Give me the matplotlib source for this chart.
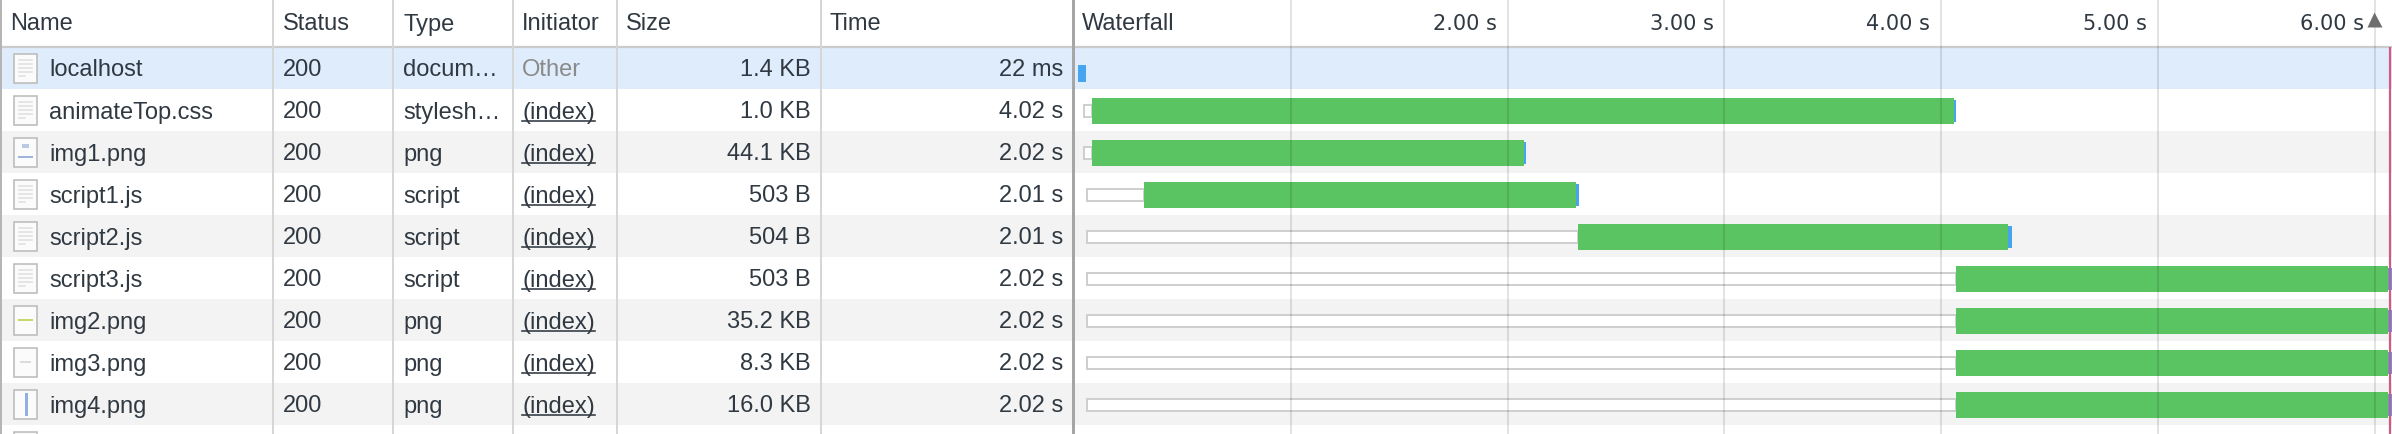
import numpy as np
import matplotlib
matplotlib.use("Agg")
import matplotlib.pyplot as plt
from matplotlib.patches import Rectangle
from matplotlib.lines import Line2D
import matplotlib.transforms as mtrans

# --- datos de la tabla ---
names = ["localhost", "animateTop.css", "img1.png", "script1.js", "script2.js",
         "script3.js", "img2.png", "img3.png", "img4.png"]
statuses = ["200"] * 9
types = ["docum\u2026", "stylesh\u2026", "png", "script", "script", "script",
         "png", "png", "png"]
initiators = ["Other"] + ["(index)"] * 8
sizes = ["1.4 KB", "1.0 KB", "44.1 KB", "503 B", "504 B", "503 B",
         "35.2 KB", "8.3 KB", "16.0 KB"]
times = ["22 ms", "4.02 s", "2.02 s", "2.01 s", "2.01 s", "2.02 s",
         "2.02 s", "2.02 s", "2.02 s"]
icon_kind = ["doc", "doc", "img1", "doc", "doc", "doc", "img2", "img3", "img4"]

# --- waterfall (segundos) ---
queue_start = [0.018, 0.046, 0.046, 0.060, 0.060, 0.060, 0.060, 0.060, 0.060]
wait_start = [0.018, 0.083, 0.083, 0.323, 2.325, 4.069, 4.069, 4.069, 4.069]
recv_start = [0.018, 4.059, 2.075, 2.315, 4.307, 6.061, 6.061, 6.061, 6.061]
req_end = [0.055, 4.069, 2.085, 2.330, 4.325, 6.080, 6.080, 6.080, 6.080]
grid_secs = [1, 2, 3, 4, 5, 6]
tick_secs = [2, 3, 4, 5, 6]
tick_labels = ["2.00 s", "3.00 s", "4.00 s", "5.00 s", "6.00 s"]
load_event = 6.07

W, H = 2392, 434
HEAD = 47      # alto de la cabecera (px)
ROW = 42       # alto de fila (px)
PX_PER_S = 216.8
T0 = 1074      # px donde esta t = 0

TXT = "#303942"
FONT = ["Liberation Sans", "DejaVu Sans"]
FS = 17
PX = 0.72      # 1 px en puntos

fig = plt.figure(figsize=(W / 100, H / 100), dpi=100)
ax = fig.add_axes([0, 0, 1, 1])
ax.set_xlim(0, W)
ax.set_ylim(H, 0)
ax.axis("off")

# fondos de filas
n_rows = int(np.ceil((H - HEAD) / ROW))
for i in range(n_rows):
    y0 = HEAD + i * ROW
    if i == 0:
        c = "#dfecfc"
    elif i % 2 == 0:
        c = "#f3f3f3"
    else:
        c = "#ffffff"
    ax.add_patch(Rectangle((0, y0), W, ROW, fc=c, ec="none", zorder=0))

# bordes
ax.add_line(Line2D([0, W], [HEAD, HEAD], color="#cbcbcb", lw=2.2 * PX, zorder=2))
for x in [273, 393, 513, 617, 821]:
    ax.add_line(Line2D([x, x], [0, H], color="#d6d6d6", lw=2 * PX, zorder=2))
ax.add_line(Line2D([1073, 1073], [0, H], color="#a6a6a6", lw=3 * PX, zorder=2))
ax.add_line(Line2D([1, 1], [0, H], color="#b5b5b5", lw=2 * PX, zorder=2))

# cabecera
hy = 22
for x, lab in [(10, "Name"), (283, "Status"), (403, "Type"), (522, "Initiator"),
               (626, "Size"), (830, "Time"), (1082, "Waterfall")]:
    ax.text(x, hy, lab, ha="left", va="center_baseline", fontsize=FS,
            family=FONT, color=TXT, zorder=5)

renderer = fig.canvas.get_renderer()
inv = ax.transData.inverted()


def icon(yc, kind):
    ax.add_patch(Rectangle((14, yc - 14.5), 23, 29, fc="#fbfbfb", ec="#bcbcbc",
                           lw=1.6 * PX, zorder=3))
    if kind == "doc":
        for dy in [-8, -4, 0, 4, 8]:
            ax.add_line(Line2D([19, 32 if dy < 8 else 25], [yc + dy, yc + dy],
                               color="#dedede", lw=1.5 * PX, zorder=4))
    elif kind == "img1":
        ax.add_patch(Rectangle((22, yc - 8), 7, 4, fc="#b9c9e6", ec="none", zorder=4))
        ax.add_line(Line2D([19, 32], [yc + 5, yc + 5], color="#9db4dc",
                           lw=2 * PX, zorder=4))
    elif kind == "img2":
        ax.add_line(Line2D([19, 32], [yc, yc], color="#c8d86a", lw=2 * PX, zorder=4))
    elif kind == "img3":
        ax.add_line(Line2D([21, 30], [yc, yc], color="#dcdcdc", lw=2 * PX, zorder=4))
    elif kind == "img4":
        ax.add_line(Line2D([25.5, 25.5], [yc - 10, yc + 10], color="#8fb0e0",
                           lw=3 * PX, zorder=4))


for i in range(len(names)):
    yc = HEAD + i * ROW + ROW / 2
    icon(yc, icon_kind[i])
    kw = dict(va="center_baseline", fontsize=FS, family=FONT, zorder=5)
    ax.text(49, yc, names[i], ha="left", color=TXT, **kw)
    ax.text(283, yc, statuses[i], ha="left", color=TXT, **kw)
    ax.text(403, yc, types[i], ha="left", color=TXT, **kw)
    if initiators[i] == "Other":
        ax.text(522, yc, initiators[i], ha="left", color="#8a8a8a", **kw)
    else:
        t = ax.text(522, yc, initiators[i], ha="left", color=TXT, **kw)
        bb = t.get_window_extent(renderer)
        xa, _ = inv.transform((bb.x0, bb.y0))
        xb, _ = inv.transform((bb.x1, bb.y0))
        ax.add_line(Line2D([xa, xb], [yc + 11, yc + 11], color=TXT,
                           lw=1.6 * PX, zorder=5))
    ax.text(811, yc, sizes[i], ha="right", color=TXT, **kw)
    ax.text(1063, yc, times[i], ha="right", color=TXT, **kw)

# icono parcial de la fila cortada
ax.add_patch(Rectangle((14, HEAD + 9 * ROW + 6.5), 23, 29, fc="#fbfbfb",
                       ec="#bcbcbc", lw=1.6 * PX, zorder=3))

# --- waterfall ---
wf = fig.add_axes([T0 / W, 0, (W - T0) / W, 1])
wf.set_xlim(0, (W - T0) / PX_PER_S)
wf.set_ylim((H - HEAD) / ROW, -HEAD / ROW)
wf.axis("off")
wf.patch.set_alpha(0)

for g in grid_secs:
    wf.axvline(g, color=(0, 0, 0, 0.11), lw=2 * PX, zorder=6)

for i in range(len(names)):
    q0, w0, r0, e0 = queue_start[i], wait_start[i], recv_start[i], req_end[i]
    if w0 - q0 > 0:
        wf.add_patch(Rectangle((q0, i + 0.37), w0 - q0, 0.29, fc="white",
                               ec="#cfcfcf", lw=2 * PX, zorder=3))
    if r0 - w0 > 0:
        wf.add_patch(Rectangle((w0, i + 0.21), r0 - w0, 0.62, fc="#5bc462",
                               ec="none", zorder=4))
        wf.add_patch(Rectangle((r0, i + 0.26), e0 - r0, 0.53, fc="#47a4ef",
                               ec="none", zorder=4))
    else:
        wf.add_patch(Rectangle((r0, i + 0.43), e0 - r0, 0.40, fc="#47a4ef",
                               ec="none", zorder=4))

wf.plot([load_event, load_event], [0, (H - HEAD) / ROW], color="#cf5b80",
        lw=2.2 * PX, zorder=7, solid_capstyle="butt")

lab_tr = mtrans.offset_copy(wf.transData, fig=fig, x=-11, y=0, units="dots")
for t, lab in zip(tick_secs, tick_labels):
    wf.text(t, (hy - HEAD) / ROW, lab, transform=lab_tr, ha="right",
            va="center_baseline", fontsize=15, family=["DejaVu Sans"],
            color=TXT, zorder=8)
# flecha de orden
wf.plot([6.0 - 1 / PX_PER_S], [(19 - HEAD) / ROW], marker="^", ms=15 * PX,
        color="#6e6e6e", mec="none", zorder=8, clip_on=False)

fig.savefig("out.png", dpi=100)
plt.close(fig)
